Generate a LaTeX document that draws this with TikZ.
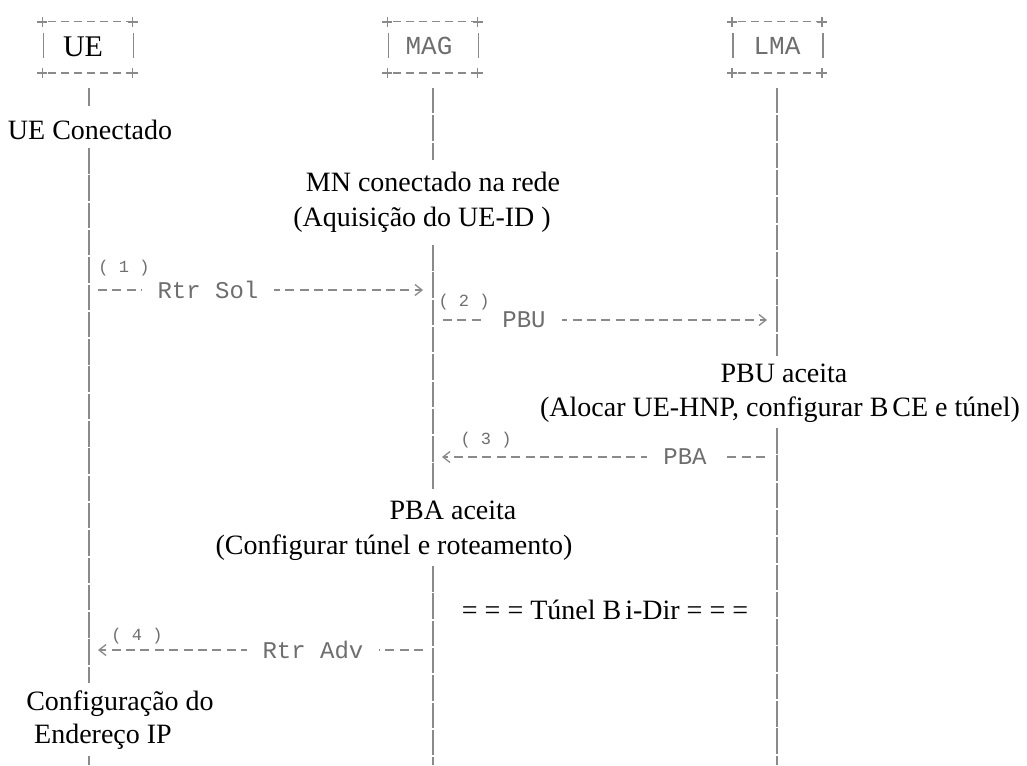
\documentclass[tikz,border=0pt]{standalone}
\usepackage{fontspec}
\setmainfont{Liberation Serif}
\setmonofont{Liberation Mono}
\usetikzlibrary{arrows.meta}
\definecolor{asciigray}{HTML}{8A8A8A}
\definecolor{labelgray}{HTML}{6E6E6E}

% ASCII-style box frame: dashed top and bottom rules, "+" corners, short "|" sides
\newcommand\asciibox[1]{%
  \draw[boxrule] (#1.north west) -- (#1.north east);
  \draw[boxrule] (#1.south west) -- (#1.south east);
  \foreach \c in {north west,north east,south west,south east}{
    \draw[plusmark] (#1.\c) ++(-5,0) -- ++(10,0);
    \draw[plusmark] (#1.\c) ++(0,-5) -- ++(0,10);
  }
  \draw[plusmark] (#1.north west) ++(1,11) -- ++(0,25);
  \draw[plusmark] (#1.north east) ++(1,11) -- ++(0,25);
}

\begin{document}
\begin{tikzpicture}[x=1pt,y=-1pt,
  boxrule/.style={draw=asciigray, line width=1.4pt, dash pattern=on 8pt off 5pt, dash phase=-6pt},
  plusmark/.style={draw=asciigray, line width=1.5pt},
  life/.style={draw=asciigray, line width=1.5pt, dash pattern=on 25.5pt off 1.8pt},
  msg/.style={draw=asciigray, line width=1.4pt, dash pattern=on 9pt off 5.4pt,
    -{Straight Barb[length=7pt,width=11pt,line width=1.3pt]}},
  entity/.style={minimum width=90pt, minimum height=51pt, inner sep=0pt},
  msglabel/.style={font=\ttfamily\fontsize{24}{26}\selectfont, text=labelgray,
    fill=white, inner xsep=16pt, inner ysep=2pt},
  stepno/.style={font=\ttfamily\fontsize{17}{19}\selectfont, text=labelgray, inner sep=0pt},
  note/.style={font=\fontsize{28}{30}\selectfont, inner sep=0pt, align=center}
]
\useasboundingbox (0,0) rectangle (1027,765);

% entities
\node[entity] (ue)  at (87.5,47.5) {};
\node[entity] (mag) at (432.5,47.5) {};
\node[entity] (lma) at (777,47.5) {};
\asciibox{ue}
\asciibox{mag}
\asciibox{lma}
\node[font=\fontsize{30}{32}\selectfont, inner sep=0pt] (uename) at (83,47) {UE};
\node[font=\ttfamily\fontsize{26}{28}\selectfont, text=labelgray, inner sep=0pt] (magname) at (429,46) {MAG};
\node[font=\ttfamily\fontsize{26}{28}\selectfont, text=labelgray, inner sep=0pt] (lmaname) at (777,46) {LMA};

% lifeline ends and gaps
\coordinate (ueA) at (89,88);   \coordinate (ueB) at (89,106);
\coordinate (ueC) at (89,148);  \coordinate (ueD) at (89,683);
\coordinate (ueE) at (89,756);  \coordinate (ueF) at (89,765);
\coordinate (magA) at (433,88); \coordinate (magB) at (433,160);
\coordinate (magC) at (433,245);\coordinate (magD) at (433,490);
\coordinate (magE) at (433,566);\coordinate (magF) at (433,765);
\coordinate (lmaA) at (777,88); \coordinate (lmaB) at (777,356);
\coordinate (lmaC) at (777,428);\coordinate (lmaF) at (777,765);

\draw[life] (ueA) -- (ueB);
\draw[life] (ueC) -- (ueD);
\draw[life] (ueE) -- (ueF);
\draw[life] (magA) -- (magB);
\draw[life] (magC) -- (magD);
\draw[life] (magE) -- (magF);
\draw[life] (lmaA) -- (lmaB);
\draw[life] (lmaC) -- (lmaF);

% message end points
\coordinate (m1s) at (98,290);  \coordinate (m1e) at (423,290);
\coordinate (m2s) at (443,320); \coordinate (m2e) at (767,320);
\coordinate (m3s) at (765,457); \coordinate (m3e) at (442,457);
\coordinate (m4s) at (423,650); \coordinate (m4e) at (98,650);

\draw[msg] (m1s) -- (m1e);
\draw[msg] (m2s) -- (m2e);
\draw[msg] (m3s) -- (m3e);
\draw[msg] (m4s) -- (m4e);

\node[msglabel] (l1) at (208,290) {Rtr Sol};
\node[msglabel] (l2) at (524,320) {PBU};
\node[msglabel] (l3) at (685,457) {PBA};
\node[msglabel] (l4) at (313,650) {Rtr Adv};

\node[stepno] (n1) at (124,268) {( 1 )};
\node[stepno] (n2) at (464,302) {( 2 )};
\node[stepno] (n3) at (486,440) {( 3 )};
\node[stepno] (n4) at (137,636) {( 4 )};

% state notes
\node[note] (t1) at (90,130) {UE Conectado};
\node[note] (t2) at (433,182) {MN conectado na rede};
\node[note] (t3) at (422,220) {(Aquisição do UE-ID )};
\node[note] (t4) at (784,373) {PBU aceita};
\node[note] (t5) at (780,410) {(Alocar UE-HNP, configurar B\kern4pt CE e túnel)};
\node[note] (t6) at (453,510) {PBA aceita};
\node[note] (t7) at (394,548) {(Configurar túnel e roteamento)};
\node[note] (t8) at (605,610) {= = = Túnel B\kern4pt i-Dir = = =};
\node[note] (t9) at (120,704) {Configuração do};
\node[note] (t10) at (103,737) {Endereço IP};
\end{tikzpicture}
\end{document}
